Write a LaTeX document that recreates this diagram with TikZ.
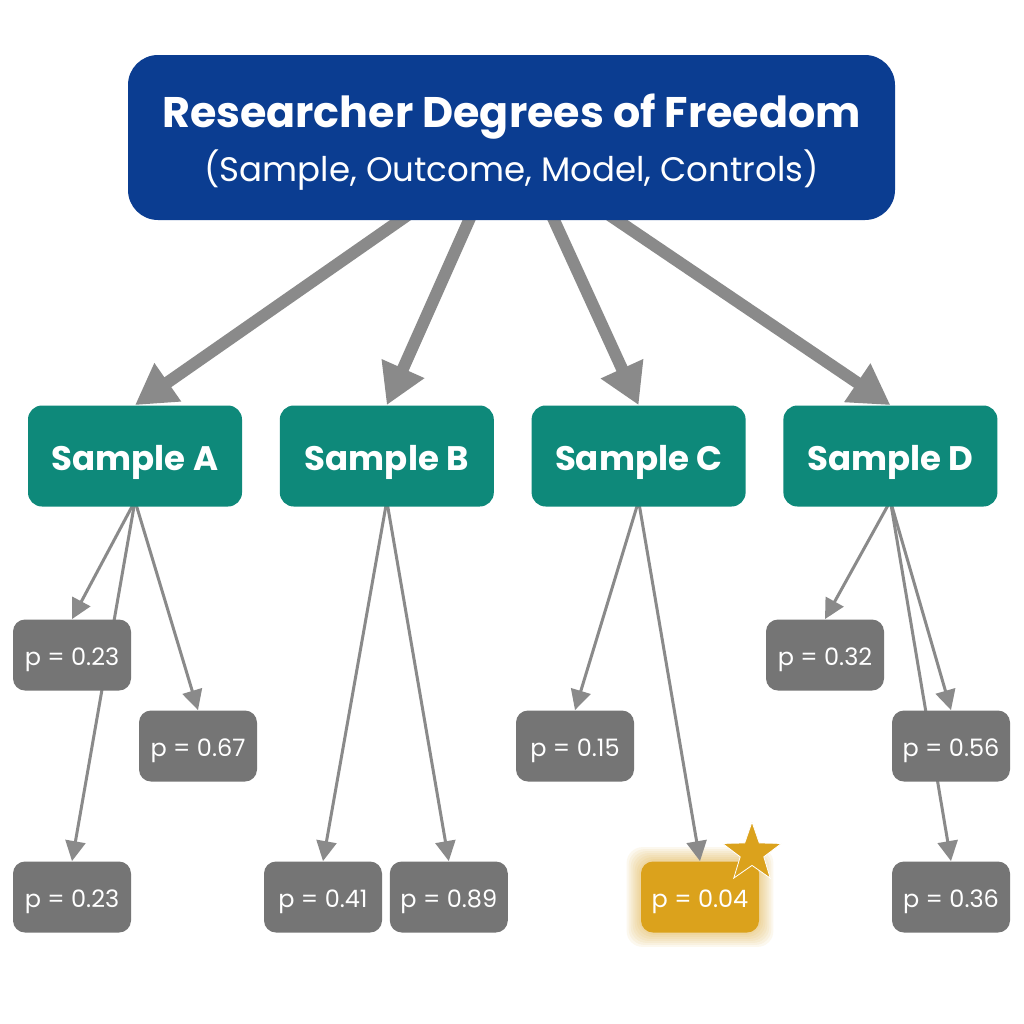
\documentclass[tikz,border=0pt]{standalone}
\usepackage{fontspec}
\setmainfont{Poppins}
\usetikzlibrary{positioning,shapes.geometric,arrows.meta,backgrounds}
\definecolor{titleBlue}{RGB}{11,61,145}
\definecolor{sampleTeal}{RGB}{14,137,122}
\definecolor{pGray}{RGB}{117,117,117}
\definecolor{arrowGray}{RGB}{138,138,138}
\definecolor{hitGold}{RGB}{219,162,28}

\begin{document}
\begin{tikzpicture}[x=0.5pt, y=-0.5pt ,
title/.style={rectangle, rounded corners=15pt, fill=titleBlue, text=white, minimum width=383.5pt, minimum height=82.5pt, align=center, text depth=0pt} ,
sample/.style={rectangle, rounded corners=7pt, fill=sampleTeal, text=white, minimum width=107pt, minimum height=50.5pt, text height=14pt, text depth=0pt, font=\bfseries\fontsize{17}{20}\selectfont} ,
pval/.style={rectangle, rounded corners=6pt, fill=pGray, text=white, minimum width=59pt, minimum height=35.5pt, text height=10.9pt, text depth=0pt, font=\fontsize{12}{14}\selectfont} ,
hit/.style={pval, fill=hitGold} ,
bigArrow/.style={draw=arrowGray, line width=6pt, -{Triangle[length=20pt, width=22pt]}} ,
smallArrow/.style={draw=arrowGray, line width=1.5pt, -{Triangle[length=10pt, width=10pt]}}
]
\useasboundingbox (0,0) rectangle (1024,1024) ;

\node (title) [title] at (511.5,137.5) {{\bfseries\fontsize{21.4}{26}\selectfont Researcher Degrees of Freedom}\\[4pt]
    {\fontsize{17}{20}\selectfont (Sample, Outcome, Model, Controls)}} ;

\node (sA) [sample] at (135,456) {Sample A} ;
\node (sB) [sample, right=18.5pt of sA] {Sample B} ;
\node (sC) [sample, right=18.5pt of sB] {Sample C} ;
\node (sD) [sample, right=18.5pt of sC] {Sample D} ;

\node (a1) [pval] at (72,655) {p = 0.23} ;
\node (a2) [pval] at (198,746) {p = 0.67} ;
\node (a3) [pval] at (72,897) {p = 0.23} ;
\node (b1) [pval] at (323,897) {p = 0.41} ;
\node (b2) [pval, right=3.5pt of b1] {p = 0.89} ;
\node (c1) [pval] at (575,746) {p = 0.15} ;
\node (c2) [hit] at (700,897) {p = 0.04} ;
\node (d1) [pval] at (825,655) {p = 0.32} ;
\node (d2) [pval] at (951,746) {p = 0.56} ;
\node (d3) [pval] at (951,897) {p = 0.36} ;

\node (star) [star, star points=5, star point ratio=2.5, fill=hitGold, draw=white, line width=0.4pt, minimum size=31pt, inner sep=0pt] at (752,853) {} ;

\begin{pgfonlayer}{background}
\fill [white] (0,0) rectangle (1024,1024) ;
% glow round the small p
\foreach \g in {1,...,7}
    \fill [hitGold, opacity=0.07, rounded corners=8pt] ([shift={(-\g pt,-\g pt)}]c2.south west) rectangle ([shift={(\g pt,\g pt)}]c2.north east) ;

\draw [bigArrow] ([xshift=-50pt, yshift=4pt]title.south) -- (sA.north) ;
\draw [bigArrow] ([xshift=-19.5pt, yshift=4pt]title.south) -- (sB.north) ;
\draw [bigArrow] ([xshift=19.5pt, yshift=4pt]title.south) -- (sC.north) ;
\draw [bigArrow] ([xshift=47pt, yshift=4pt]title.south) -- (sD.north) ;

\draw [smallArrow] ([yshift=3pt]sA.south) -- (a1.north) ;
\draw [smallArrow] ([yshift=3pt]sA.south) -- (a2.north) ;
\draw [smallArrow] ([yshift=3pt]sA.south) -- (a3.north) ;
\draw [smallArrow] ([yshift=3pt]sB.south) -- (b1.north) ;
\draw [smallArrow] ([yshift=3pt]sB.south) -- (b2.north) ;
\draw [smallArrow] ([yshift=3pt]sC.south) -- (c1.north) ;
\draw [smallArrow] ([yshift=3pt]sC.south) -- (c2.north) ;
\draw [smallArrow] ([yshift=3pt]sD.south) -- (d1.north) ;
\draw [smallArrow] ([yshift=3pt]sD.south) -- (d2.north) ;
\draw [smallArrow] ([yshift=3pt]sD.south) -- (d3.north) ;
\end{pgfonlayer}
\end{tikzpicture}
\end{document}
